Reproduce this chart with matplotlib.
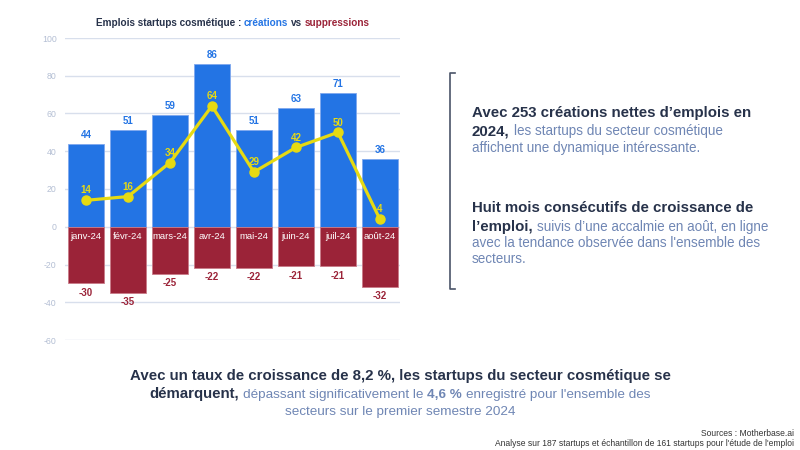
import matplotlib
matplotlib.use("Agg")
import matplotlib.pyplot as plt
from matplotlib.transforms import IdentityTransform
import numpy as np

# Données
months = ['janv-24', 'févr-24', 'mars-24', 'avr-24', 'mai-24', 'juin-24', 'juil-24', 'août-24']
creations = [44, 51, 59, 86, 51, 63, 71, 36]
suppressions = [-30, -35, -25, -22, -22, -21, -21, -32]
net = [14, 16, 34, 64, 29, 42, 50, 4]
yticks = [-60, -40, -20, 0, 20, 40, 60, 80, 100]

BLUE = "#2374e4"
RED = "#9b2338"
YELLOW = "#e6da12"
DARK = "#27324a"
SLATE = "#6f86b4"
GRID = "#d8dfec"
TICK = "#b4bfd4"

FONT = ['Liberation Sans', 'DejaVu Sans']
plt.rcParams['font.family'] = FONT
plt.rcParams['axes.unicode_minus'] = False

fig = plt.figure(figsize=(8, 4.5), dpi=100)
ax = fig.add_axes([65 / 800, 1 - 340 / 450, 335 / 800, 302 / 450])

x = np.arange(len(months))
ax.bar(x, creations, width=0.86, color=BLUE, edgecolor="#7fa8ee", linewidth=0.6, zorder=2)
ax.bar(x, suppressions, width=0.86, color=RED, edgecolor="#c97b88", linewidth=0.6, zorder=2)
ax.plot(x, net, color=YELLOW, lw=2.3, marker='o', ms=6.5, zorder=4)

for i in range(len(months)):
    ax.annotate(str(creations[i]), (x[i], creations[i]), xytext=(0, 3), textcoords='offset points',
                ha='center', va='bottom', fontsize=7, fontweight='bold', color=BLUE)
    ax.annotate(str(suppressions[i]), (x[i], suppressions[i]), xytext=(0, -3), textcoords='offset points',
                ha='center', va='top', fontsize=7, fontweight='bold', color=RED)
    ax.annotate(str(net[i]), (x[i], net[i]), xytext=(0, 3.5), textcoords='offset points',
                ha='center', va='bottom', fontsize=7, fontweight='bold', color=YELLOW, zorder=5)
    ax.annotate(months[i], (x[i], 0), xytext=(0, -3.5), textcoords='offset points',
                ha='center', va='top', fontsize=6.8, color='white', zorder=5)

ax.set_xlim(-0.5, 7.48)
ax.set_ylim(-60, 100)
ax.set_yticks(yticks)
ax.set_xticks([])
ax.tick_params(axis='y', length=0, labelsize=6.3, labelcolor=TICK, pad=6)
ax.grid(axis='y', color=GRID, lw=1, zorder=0)
for s in ax.spines.values():
    s.set_visible(False)
ax.set_facecolor('none')

renderer = fig.canvas.get_renderer()
LIGHT_SCALE = 0.9  # le texte normal de la référence est plus étroit que le gras


def text_width(s, **kw):
    t = fig.text(0, 0, s, transform=IdentityTransform(), **kw)
    w = t.get_window_extent(renderer).width
    t.remove()
    return w


def rich_line(xp, yp, parts, fs, ha='left'):
    # parts : liste de (texte, couleur, graisse[, petit]), séparés par une espace
    sizes, widths, spaces = [], [], []
    for p in parts:
        s, c, w = p[:3]
        small = p[3] if len(p) > 3 else (w != 'bold')
        size = fs * LIGHT_SCALE if small else fs
        kw = dict(fontsize=size, fontweight=w)
        sizes.append(size)
        widths.append(text_width(s, **kw))
        spaces.append(text_width("a a", **kw) - text_width("aa", **kw))
    total = sum(widths) + sum(spaces[:-1])
    cur = xp - total / 2 if ha == 'center' else xp
    y = 450 - yp
    for p, size, wd, sp in zip(parts, sizes, widths, spaces):
        s, c, w = p[:3]
        fig.text(cur, y, s, transform=IdentityTransform(), fontsize=size, fontweight=w,
                 color=c, ha='left', va='baseline')
        cur += wd + sp


# Titre
rich_line(233, 26, [("Emplois startups cosmétique :", DARK, 'bold'),
                    ("créations", BLUE, 'bold'),
                    ("vs", DARK, 'bold'),
                    ("suppressions", RED, 'bold')], 7.2, ha='center')

# Accolade
fig.add_artist(plt.Line2D([455 / 800, 450 / 800, 450 / 800, 455 / 800],
                          [1 - 73 / 450, 1 - 73 / 450, 1 - 289 / 450, 1 - 289 / 450],
                          color="#4a5468", lw=1.2))

fs_r = 10.8
rich_line(472, 117, [("Avec 253 créations nettes d’emplois en", DARK, 'bold')], fs_r)
rich_line(472, 135, [("2024,", DARK, 'bold'), ("les startups du secteur cosmétique", SLATE, 'normal')], fs_r)
rich_line(472, 152, [("affichent une dynamique intéressante.", SLATE, 'normal')], fs_r)

rich_line(472, 212, [("Huit mois consécutifs de croissance de", DARK, 'bold')], fs_r)
rich_line(472, 231, [("l’emploi,", DARK, 'bold'), ("suivis d’une accalmie en août, en ligne", SLATE, 'normal')], fs_r)
rich_line(472, 247, [("avec la tendance observée dans l'ensemble des", SLATE, 'normal')], fs_r)
rich_line(472, 263, [("secteurs.", SLATE, 'normal')], fs_r)

# Conclusion en bas (taille ajustée à la largeur de la référence)
line1 = "Avec un taux de croissance de 8,2 %, les startups du secteur cosmétique se"
fs_b = 11 * 543 / text_width(line1, fontsize=11, fontweight='bold')
rich_line(400, 380, [(line1, DARK, 'bold')], fs_b, ha='center')
rich_line(400, 398, [("démarquent,", DARK, 'bold'), ("dépassant significativement le", SLATE, 'normal'),
                     ("4,6 %", SLATE, 'bold', True), ("enregistré pour l'ensemble des", SLATE, 'normal')],
          fs_b, ha='center')
rich_line(400, 415, [("secteurs sur le premier semestre 2024", SLATE, 'normal')], fs_b, ha='center')

# Sources
fig.text(794 / 800, 1 - 436 / 450, "Sources : Motherbase.ai", ha='right', va='baseline',
         fontsize=6.15, color="#333333")
fig.text(794 / 800, 1 - 445.5 / 450, "Analyse sur 187 startups et échantillon de 161 startups pour l'étude de l'emploi",
         ha='right', va='baseline', fontsize=6.15, color="#333333")

fig.savefig("out.png", dpi=100, facecolor='white')
